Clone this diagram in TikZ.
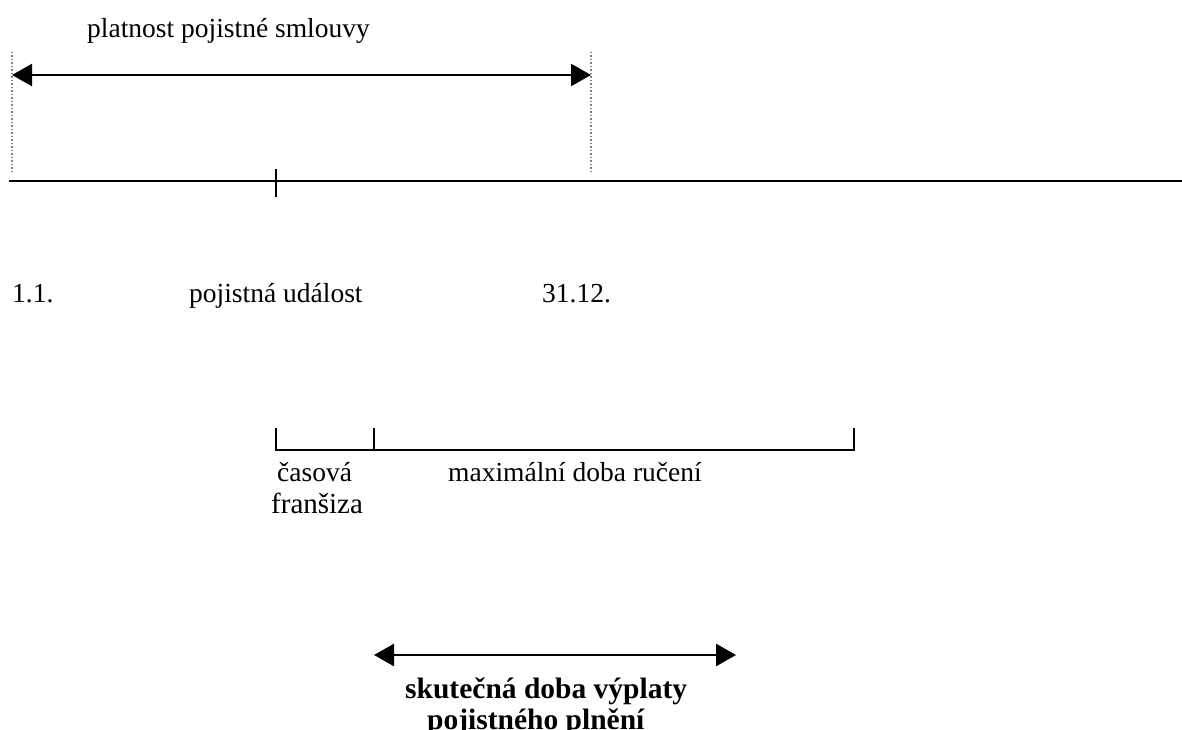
\documentclass[tikz,border=0pt]{standalone}
\usepackage{fontspec}
\setmainfont{Liberation Serif}
\usetikzlibrary{arrows.meta}
\begin{document}
\begin{tikzpicture}[x=1pt,y=-1pt,
  lbl/.style={inner sep=0pt,font=\fontsize{27.5}{32}\selectfont},
  blbl/.style={inner sep=0pt,font=\fontsize{29.5}{34}\selectfont\bfseries},
  dbl/.style={line width=2.6pt,{Triangle[length=20pt,width=22pt]}-{Triangle[length=20pt,width=22pt]}},
  thin/.style={line width=2pt},
  dots/.style={line width=1.5pt,dotted,gray}]
\useasboundingbox (0,0) rectangle (1182,730);
% top arrow
\coordinate (a1) at (12,75);
\coordinate (a2) at (591,75);
\draw[dbl] (a1) -- (a2);
\coordinate (d1t) at (12,52); \coordinate (d1b) at (12,172);
\coordinate (d2t) at (591,52); \coordinate (d2b) at (591,172);
\draw[dots] (d1t) -- (d1b);
\draw[dots] (d2t) -- (d2b);
\node[lbl,anchor=base west] (plat) at (87,38) {platnost pojistné smlouvy};
% main timeline
\coordinate (m1) at (9,181);
\coordinate (m2) at (1182,181);
\draw[line width=2.6pt] (m1) -- (m2);
\coordinate (t1) at (276,169); \coordinate (t2) at (276,197);
\draw[thin] (t1) -- (t2);
\node[lbl,anchor=base west] (d11) at (12,302) {1.1.};
\node[lbl,anchor=base west] (pu) at (189,302) {pojistná událost};
\node[lbl,anchor=base west] (d3112) at (542,302) {31.12.};
% bracket
\coordinate (b1) at (276,428); \coordinate (b1b) at (276,450);
\coordinate (b2) at (374,428); \coordinate (b2b) at (374,450);
\coordinate (b3) at (854,428); \coordinate (b3b) at (854,450);
\draw[thin] (b1) -- (b1b) -- (b3b) -- (b3);
\draw[thin] (b2) -- (b2b);
\node[lbl,anchor=base west] (cas) at (277,481) {časová};
\node[lbl,anchor=base west,font=\fontsize{29}{32}\selectfont] (fr) at (271,513) {franšiza};
\node[lbl,anchor=base west] (max) at (448,481) {maximální doba ručení};
% bottom arrow
\coordinate (c1) at (374,655);
\coordinate (c2) at (736,655);
\draw[dbl] (c1) -- (c2);
\node[blbl,anchor=base west] (sk) at (405,698) {skutečná doba výplaty};
\node[blbl,anchor=base west] (pp) at (427,729) {pojistného plnění};
\end{tikzpicture}
\end{document}
